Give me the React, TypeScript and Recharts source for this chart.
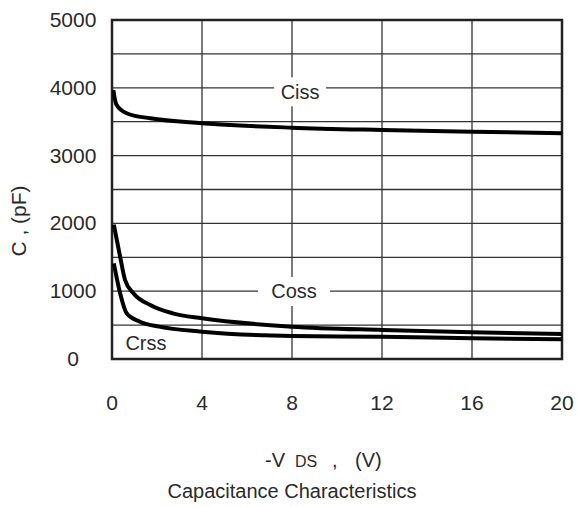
import React from 'react';
import { LineChart, Line, XAxis, YAxis, CartesianGrid, ReferenceArea, ReferenceDot } from 'recharts';

const X_TICKS = [0, 4, 8, 12, 16, 20];
const Y_TICKS = [0, 500, 1000, 1500, 2000, 2500, 3000, 3500, 4000, 4500, 5000];

const CISS = [
  { v: 0.06, c: 3968 },
  { v: 0.13, c: 3830 },
  { v: 0.2, c: 3750 },
  { v: 0.65, c: 3625 },
  { v: 1.7, c: 3550 },
  { v: 4, c: 3478 },
  { v: 8, c: 3412 },
  { v: 12, c: 3378 },
  { v: 16, c: 3353 },
  { v: 20, c: 3329 },
];

const COSS = [
  { v: 0.08, c: 1980 },
  { v: 0.36, c: 1510 },
  { v: 0.58, c: 1165 },
  { v: 0.95, c: 970 },
  { v: 1.7, c: 797 },
  { v: 2.7, c: 674 },
  { v: 4, c: 600 },
  { v: 8, c: 477 },
  { v: 12, c: 428 },
  { v: 16, c: 394 },
  { v: 20, c: 369 },
];

const CRSS = [
  { v: 0.08, c: 1410 },
  { v: 0.36, c: 970 },
  { v: 0.65, c: 674 },
  { v: 1.24, c: 550 },
  { v: 2.1, c: 477 },
  { v: 4, c: 403 },
  { v: 8, c: 339 },
  { v: 12, c: 329 },
  { v: 16, c: 305 },
  { v: 20, c: 290 },
];

const SERIES_LABELS = [
  { name: 'Ciss', v: 8.36, c: 3940, box: true, w: 52, h: 29 },
  { name: 'Coss', v: 8.09, c: 996, box: true, w: 72, h: 29 },
  { name: 'Crss', v: 1.51, c: 243, box: false, w: 0, h: 0 },
];

const FONT = '"Liberation Sans", Arial, sans-serif';
const INK = '#2a2a2a';

const YTick = (props: any) => {
  const { y, payload } = props;
  if (payload.value % 1000 !== 0) return null;
  return (
    <text x={73} y={y} dy={7} textAnchor="middle" fontFamily={FONT} fontSize={21} fill={INK}>
      {payload.value}
    </text>
  );
};

const XTick = (props: any) => {
  const { x, payload } = props;
  return (
    <text x={x} y={410} textAnchor="middle" fontFamily={FONT} fontSize={21} fill={INK}>
      {payload.value}
    </text>
  );
};

const XLabel = () => (
  <g fontFamily={FONT} fill={INK}>
    <text y={467} fontSize={20}>
      <tspan x={265}>-V</tspan>
      <tspan x={295} fontSize={16}>DS</tspan>
      <tspan x={332}>,</tspan>
      <tspan x={355}>(V)</tspan>
    </text>
    <text x={292} y={498} fontSize={20} textAnchor="middle">
      Capacitance Characteristics
    </text>
  </g>
);

const YLabel = () => (
  <text
    x={26}
    y={221}
    transform="rotate(-90, 26, 221)"
    textAnchor="middle"
    fontFamily={FONT}
    fontSize={21}
    fill={INK}
  >
    C , (pF)
  </text>
);

const makeLabelShape = (name: string, box: boolean, w: number, h: number) => (props: any) => {
  const { cx, cy } = props;
  return (
    <g>
      {box && <rect x={cx - w / 2} y={cy - h / 2} width={w} height={h} fill="#fff" />}
      <text x={cx} y={cy} dy={7} textAnchor="middle" fontFamily={FONT} fontSize={20} fill={INK}>
        {name}
      </text>
    </g>
  );
};

export default function App() {
  return (
    <div style={{ position: 'absolute', left: 0, top: 0, width: 578, height: 507, background: '#fff', overflow: 'hidden' }}>
      <LineChart
        width={578}
        height={507}
        margin={{ top: 20, right: 16, bottom: 108, left: 52 }}
      >
        <CartesianGrid stroke="#333" strokeWidth={1.3} ticks={Y_TICKS as any} />
        <XAxis
          type="number"
          dataKey="v"
          domain={[0, 20]}
          ticks={X_TICKS}
          tick={<XTick />}
          tickLine={false}
          axisLine={false}
          height={40}
          allowDataOverflow
          label={{ content: () => <XLabel /> }}
        />
        <YAxis
          type="number"
          dataKey="c"
          domain={[0, 5000]}
          ticks={Y_TICKS}
          interval={0}
          tick={<YTick />}
          tickLine={false}
          axisLine={false}
          width={60}
          allowDataOverflow
          label={{ content: () => <YLabel /> }}
        />
        <Line data={CISS} dataKey="c" type="monotone" stroke="#000" strokeWidth={4} dot={false} isAnimationActive={false} />
        <Line data={COSS} dataKey="c" type="monotone" stroke="#000" strokeWidth={4} dot={false} isAnimationActive={false} />
        <Line data={CRSS} dataKey="c" type="monotone" stroke="#000" strokeWidth={4} dot={false} isAnimationActive={false} />
        {SERIES_LABELS.map((l) => (
          <ReferenceDot
            key={l.name}
            x={l.v}
            y={l.c}
            r={0}
            ifOverflow="visible"
            shape={makeLabelShape(l.name, l.box, l.w, l.h)}
          />
        ))}
        <ReferenceArea x1={0} x2={20} y1={0} y2={5000} fill="none" fillOpacity={0} stroke="#222" strokeWidth={2.5} ifOverflow="visible" />
      </LineChart>
    </div>
  );
}
